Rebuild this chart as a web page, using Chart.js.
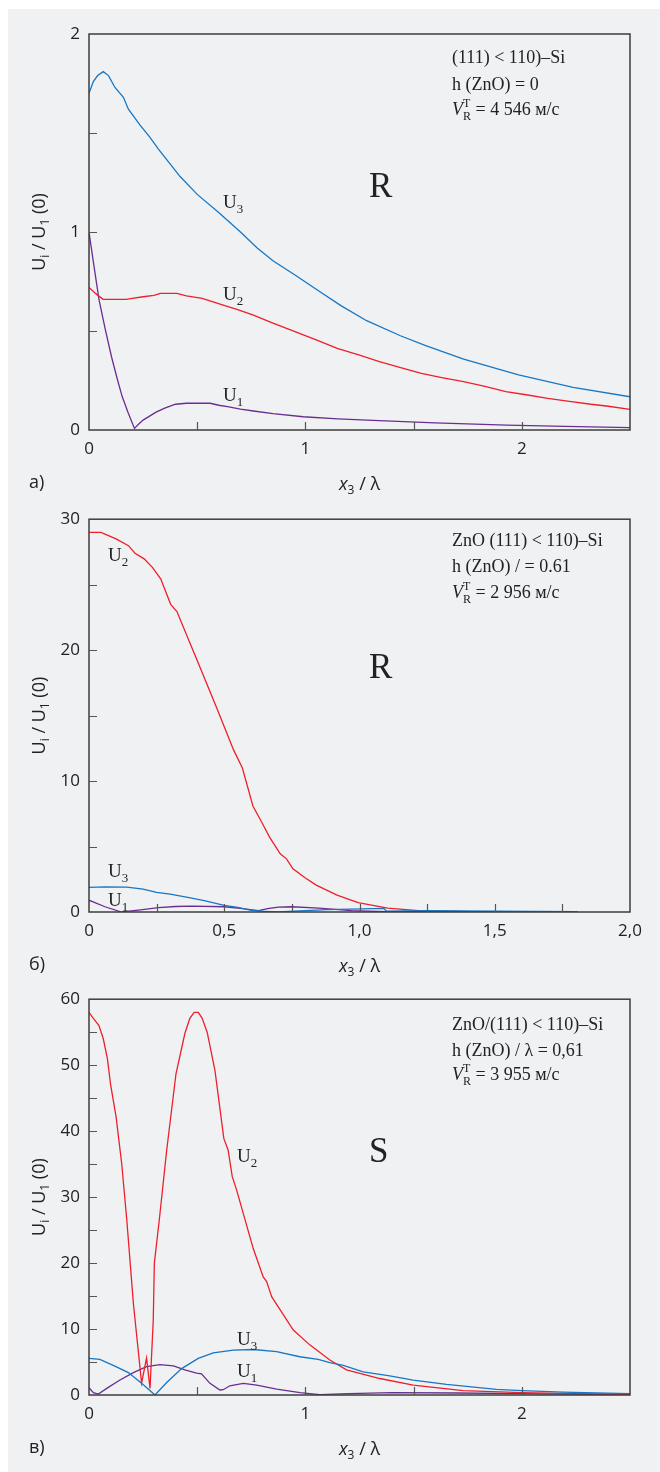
<!DOCTYPE html>
<html>
<head>
<meta charset="utf-8">
<script src="https://cdn.jsdelivr.net/npm/chart.js@4.4.1/dist/chart.umd.min.js"></script>
<style>
  html, body { margin: 0; padding: 0; background: #ffffff; }
  body { width: 660px; height: 1472px; position: relative; overflow: hidden; }
  #sheet { position: absolute; left: 8px; top: 9px; width: 652px; height: 1463px; background: #f0f1f3; }
  canvas { position: absolute; left: 0; }
</style>
</head>
<body>
<div id="sheet"></div>
<canvas id="panelA" width="660" height="500" style="top:0px"></canvas>
<canvas id="panelB" width="660" height="480" style="top:500px"></canvas>
<canvas id="panelC" width="660" height="492" style="top:980px"></canvas>
<script>
// ---------- Panel а: (111)<110>-Si, Rayleigh wave ----------
const a_x1 = [0, 0.02, 0.046, 0.075, 0.104, 0.13, 0.153, 0.18, 0.21, 0.23, 0.25, 0.28, 0.31, 0.35, 0.4, 0.45, 0.56, 0.6, 0.64, 0.7, 0.76, 0.85, 0.99, 1.15, 1.34, 1.6, 1.93, 2.2, 2.5];
const a_u1 = [1.0, 0.85, 0.66, 0.51, 0.37, 0.26, 0.17, 0.09, 0.008, 0.03, 0.05, 0.07, 0.09, 0.11, 0.13, 0.135, 0.135, 0.125, 0.118, 0.105, 0.096, 0.083, 0.067, 0.056, 0.047, 0.036, 0.025, 0.018, 0.012];
const a_x2 = [0, 0.03, 0.065, 0.1, 0.172, 0.2, 0.25, 0.3, 0.33, 0.406, 0.45, 0.523, 0.57, 0.62, 0.68, 0.757, 0.85, 0.952, 1.05, 1.147, 1.25, 1.342, 1.44, 1.536, 1.63, 1.731, 1.83, 1.926, 2.02, 2.12, 2.22, 2.32, 2.4, 2.5];
const a_u2 = [0.72, 0.69, 0.66, 0.66, 0.66, 0.665, 0.673, 0.68, 0.69, 0.69, 0.677, 0.665, 0.648, 0.631, 0.61, 0.581, 0.54, 0.497, 0.455, 0.412, 0.378, 0.345, 0.315, 0.286, 0.265, 0.244, 0.22, 0.194, 0.178, 0.16, 0.145, 0.13, 0.12, 0.104];
const a_x3 = [0, 0.02, 0.04, 0.066, 0.09, 0.12, 0.159, 0.182, 0.236, 0.28, 0.32, 0.37, 0.421, 0.5, 0.598, 0.7, 0.776, 0.85, 0.952, 1.069, 1.166, 1.283, 1.439, 1.556, 1.731, 1.985, 2.237, 2.5];
const a_u3 = [1.70, 1.76, 1.79, 1.81, 1.79, 1.73, 1.68, 1.62, 1.54, 1.48, 1.42, 1.35, 1.28, 1.19, 1.10, 1.00, 0.92, 0.855, 0.783, 0.697, 0.627, 0.552, 0.476, 0.426, 0.358, 0.278, 0.215, 0.168];
const a_xTicks = [0, 1, 2];
const a_xTickText = ['0', '1', '2'];
const a_yTicks = [0, 1, 2];
const a_yTickText = ['0', '1', '2'];

// ---------- Panel б: ZnO/(111)<110>-Si, h/λ = 0.61, Rayleigh wave ----------
const b_x1 = [0, 0.059, 0.12, 0.183, 0.257, 0.32, 0.38, 0.5, 0.56, 0.627, 0.66, 0.7, 0.75, 0.85, 0.97, 1.1, 1.3, 1.806];
const b_u1 = [0.9, 0.4, 0, 0.15, 0.33, 0.42, 0.45, 0.4, 0.28, 0.1, 0.25, 0.38, 0.4, 0.3, 0.1, 0.02, 0.02, 0];
const b_x2 = [0, 0.044, 0.1, 0.146, 0.17, 0.204, 0.235, 0.265, 0.302, 0.325, 0.4, 0.47, 0.534, 0.567, 0.606, 0.64, 0.668, 0.707, 0.73, 0.754, 0.8, 0.84, 0.917, 0.995, 1.104, 1.229, 1.4, 1.6, 1.806];
const b_u2 = [29, 29, 28.5, 27.98, 27.4, 26.97, 26.3, 25.45, 23.5, 22.95, 19.2, 15.7, 12.4, 11.0, 8.1, 6.8, 5.7, 4.44, 4.06, 3.3, 2.6, 2.05, 1.29, 0.71, 0.3, 0.08, 0.03, 0.01, 0];
const b_x3 = [0, 0.06, 0.14, 0.2, 0.25, 0.3, 0.37, 0.43, 0.5, 0.55, 0.6, 0.65, 0.7, 0.78, 0.88, 0.97, 1.09, 1.1, 1.25, 1.5, 1.806];
const b_u3 = [1.88, 1.92, 1.9, 1.75, 1.5, 1.36, 1.1, 0.85, 0.5, 0.36, 0.12, 0.05, 0, 0.08, 0.18, 0.22, 0.27, 0.06, 0.1, 0.06, 0.03];
const b_xTicks = [0, 0.5, 1, 1.5, 2];
const b_xTickText = ['0', '0,5', '1,0', '1,5', '2,0'];
const b_yTicks = [0, 10, 20, 30];
const b_yTickText = ['0', '10', '20', '30'];

// ---------- Panel в: ZnO/(111)<110>-Si, h/λ = 0,61, shear wave ----------
const c_x1 = [0, 0.02, 0.043, 0.082, 0.143, 0.205, 0.266, 0.328, 0.39, 0.443, 0.497, 0.52, 0.559, 0.605, 0.62, 0.651, 0.713, 0.775, 0.867, 0.975, 1.067, 1.2, 1.4, 1.7, 2.0, 2.5];
const c_u1 = [1.1, 0.35, 0.15, 1.0, 2.27, 3.4, 4.3, 4.6, 4.4, 3.8, 3.3, 3.2, 1.77, 0.76, 0.8, 1.4, 1.77, 1.5, 0.9, 0.35, 0.05, 0.2, 0.35, 0.3, 0.2, 0.05];
const c_x2 = [0, 0.02, 0.046, 0.066, 0.085, 0.1, 0.125, 0.151, 0.174, 0.205, 0.243, 0.266, 0.282, 0.297, 0.302, 0.325, 0.359, 0.402, 0.443, 0.466, 0.486, 0.505, 0.523, 0.546, 0.582, 0.623, 0.643, 0.662, 0.682, 0.72, 0.759, 0.805, 0.821, 0.844, 0.944, 1.02, 1.113, 1.19, 1.344, 1.498, 1.729, 2.0, 2.25, 2.5];
const c_u2 = [58, 57.1, 56, 54, 51, 47, 42.2, 35.1, 26.8, 13.9, 1.8, 5.6, 1.0, 11.4, 20, 26.6, 37.1, 48.7, 54.8, 57.1, 58, 58, 57.1, 55, 49.2, 38.9, 37.1, 33.1, 31.1, 26.7, 22.2, 17.9, 17.2, 14.9, 9.85, 7.6, 5.3, 3.8, 2.5, 1.5, 0.66, 0.36, 0.2, 0.1];
const c_x3 = [0, 0.05, 0.112, 0.182, 0.243, 0.305, 0.359, 0.428, 0.505, 0.574, 0.667, 0.76, 0.867, 0.974, 1.059, 1.113, 1.175, 1.267, 1.39, 1.498, 1.652, 1.883, 2.0, 2.19, 2.5];
const c_u3 = [5.56, 5.4, 4.5, 3.4, 1.77, 0, 1.9, 4.0, 5.56, 6.4, 6.8, 6.9, 6.57, 5.8, 5.4, 4.9, 4.5, 3.5, 2.9, 2.27, 1.6, 0.86, 0.66, 0.45, 0.2];
const c_xTicks = [0, 1, 2];
const c_xTickText = ['0', '1', '2'];
const c_yTicks = [0, 10, 20, 30, 40, 50, 60];
const c_yTickText = ['0', '10', '20', '30', '40', '50', '60'];

// ---------- shared styling ----------
const BLUE = '#1677c4';
const RED = '#ee1f2b';
const PURPLE = '#6a2d92';
const INK = '#222222';
const SERIF = '"Liberation Serif", "DejaVu Serif", serif';
const SANS = '"Open Sans", "Noto Sans", sans-serif';

// Draws a sequence of text pieces left to right; a piece may stack a superscript over a subscript.
function drawRuns(ctx, x, y, parts) {
  let cx = x;
  for (const p of parts) {
    if (p.stack) {
      ctx.font = p.font;
      ctx.fillText(p.sup, cx, y + p.supDy);
      ctx.fillText(p.sub, cx, y + p.subDy);
      cx += Math.max(ctx.measureText(p.sup).width, ctx.measureText(p.sub).width);
    } else {
      ctx.font = p.font;
      ctx.fillText(p.t, cx, y + (p.dy || 0));
      cx += ctx.measureText(p.t).width;
    }
  }
  return cx - x;
}
function measureRuns(ctx, parts) {
  let w = 0;
  for (const p of parts) {
    ctx.font = p.font;
    if (p.stack) w += Math.max(ctx.measureText(p.sup).width, ctx.measureText(p.sub).width);
    else w += ctx.measureText(p.t).width;
  }
  return w;
}

// Curve label "U" with numeric subscript
function uLabel(n) {
  return [
    { t: 'U', font: '19px ' + SERIF },
    { t: String(n), font: '13px ' + SERIF, dy: 5 }
  ];
}

const yTitleParts = [
  { t: 'U', font: '18px ' + SANS },
  { t: 'i', font: '12px ' + SANS, dy: 4 },
  { t: ' / ', font: '18px ' + SANS },
  { t: 'U', font: '18px ' + SANS },
  { t: '1', font: '12px ' + SANS, dy: 4 },
  { t: ' (0)', font: '18px ' + SANS }
];
const xTitleParts = [
  { t: 'x', font: 'italic 18px ' + SANS },
  { t: '3', font: '12px ' + SANS, dy: 4 },
  { t: ' / λ', font: '18px ' + SANS }
];
function velocityLine(text) {
  return [
    { t: 'V', font: 'italic 18px ' + SERIF },
    { stack: true, sup: 'T', sub: 'R', font: '12px ' + SERIF, supDy: -8, subDy: 5 },
    { t: text, font: '18px ' + SERIF }
  ];
}

function decorations(cfg) {
  return {
    id: 'decor_' + cfg.id,
    afterDraw(chart) {
      const ctx = chart.ctx;
      const { left, right, top, bottom } = chart.chartArea;
      const xs = chart.scales.x, ys = chart.scales.y;
      ctx.save();
      // frame
      ctx.strokeStyle = '#3c3c3c';
      ctx.lineWidth = 1.5;
      ctx.strokeRect(left, top, right - left, bottom - top);
      // inward tick marks
      ctx.strokeStyle = '#555555';
      ctx.lineWidth = 1.2;
      ctx.beginPath();
      xs.ticks.forEach(t => {
        if (t.value <= xs.min + 1e-9 || t.value >= xs.max - 1e-9) return;
        const px = Math.round(xs.getPixelForValue(t.value)) + 0.5;
        ctx.moveTo(px, bottom); ctx.lineTo(px, bottom - 8);
      });
      ys.ticks.forEach(t => {
        if (t.value <= ys.min + 1e-9 || t.value >= ys.max - 1e-9) return;
        const py = Math.round(ys.getPixelForValue(t.value)) + 0.5;
        ctx.moveTo(left, py); ctx.lineTo(left + 8, py);
      });
      ctx.stroke();

      ctx.fillStyle = INK;
      ctx.textBaseline = 'alphabetic';
      ctx.textAlign = 'left';
      // y axis title (rotated)
      const cy = (top + bottom) / 2;
      const tw = measureRuns(ctx, yTitleParts);
      ctx.save();
      ctx.translate(45, cy);
      ctx.rotate(-Math.PI / 2);
      drawRuns(ctx, -tw / 2, 0, yTitleParts);
      ctx.restore();
      // x axis title
      const xw = measureRuns(ctx, xTitleParts);
      drawRuns(ctx, (left + right) / 2 - xw / 2, bottom + 60, xTitleParts);
      // panel letter
      ctx.font = '18px ' + SANS;
      ctx.fillText(cfg.letter, 29, bottom + 58);
      // annotation block
      cfg.notes.forEach((line, i) => drawRuns(ctx, 452, cfg.noteY[i] - cfg.canvasTop, line));
      // wave type letter
      ctx.font = '35px ' + SERIF;
      ctx.fillText(cfg.mode, cfg.modeX, cfg.modeY - cfg.canvasTop);
      // curve labels
      cfg.labels.forEach(l => drawRuns(ctx, l.x, l.y - cfg.canvasTop, uLabel(l.n)));
      ctx.restore();
    }
  };
}

function tickText(vals, texts) {
  return v => {
    const i = vals.findIndex(t => Math.abs(t - v) < 1e-6);
    return i < 0 ? '' : texts[i];
  };
}

function series(xs, ys, color) {
  return {
    data: xs.map((x, i) => ({ x: x, y: ys[i] })),
    borderColor: color,
    borderWidth: 1.3,
    pointRadius: 0,
    fill: false,
    tension: 0
  };
}

function makePanel(cfg) {
  const tickFont = { family: SANS, size: 17 };
  return new Chart(document.getElementById(cfg.id), {
    type: 'line',
    data: { datasets: cfg.datasets },
    options: {
      responsive: false,
      animation: false,
      events: [],
      layout: { padding: { left: 0, top: cfg.padTop, right: 30, bottom: 0 } },
      scales: {
        x: {
          type: 'linear', min: 0, max: cfg.xMax,
          afterFit: s => { s.height = cfg.xAxisH; },
          grid: { display: false, drawTicks: false },
          border: { display: false },
          ticks: {
            stepSize: cfg.xStep, autoSkip: false, maxRotation: 0, minRotation: 0,
            padding: 9, color: INK, font: tickFont,
            callback: tickText(cfg.xTicks, cfg.xTickText)
          }
        },
        y: {
          type: 'linear', min: 0, max: cfg.yMax,
          afterFit: s => { s.width = 89; },
          grid: { display: false, drawTicks: false },
          border: { display: false },
          ticks: {
            stepSize: cfg.yStep, autoSkip: false,
            padding: 9, color: INK, font: tickFont,
            callback: tickText(cfg.yTicks, cfg.yTickText)
          }
        }
      },
      plugins: { legend: { display: false }, tooltip: { enabled: false } }
    },
    plugins: [decorations(cfg)]
  });
}

makePanel({
  id: 'panelA', canvasTop: 0, padTop: 34, xAxisH: 70,
  xMax: 2.5, xStep: 0.5, yMax: 2, yStep: 0.5,
  xTicks: a_xTicks, xTickText: a_xTickText, yTicks: a_yTicks, yTickText: a_yTickText,
  datasets: [series(a_x3, a_u3, BLUE), series(a_x2, a_u2, RED), series(a_x1, a_u1, PURPLE)],
  letter: 'а)',
  notes: [
    [{ t: '(111) < 110)–Si', font: '18px ' + SERIF }],
    [{ t: 'h (ZnO) = 0', font: '18px ' + SERIF }],
    velocityLine(' = 4 546 м/с')
  ],
  noteY: [63, 90, 115],
  mode: 'R', modeX: 369, modeY: 197,
  labels: [{ n: 3, x: 223, y: 208 }, { n: 2, x: 223, y: 300 }, { n: 1, x: 223, y: 401 }]
});

makePanel({
  id: 'panelB', canvasTop: 500, padTop: 16, xAxisH: 68,
  xMax: 2.0, xStep: 0.25, yMax: 30, yStep: 5,
  xTicks: b_xTicks, xTickText: b_xTickText, yTicks: b_yTicks, yTickText: b_yTickText,
  datasets: [series(b_x3, b_u3, BLUE), series(b_x2, b_u2, RED), series(b_x1, b_u1, PURPLE)],
  letter: 'б)',
  notes: [
    [{ t: 'ZnO (111) < 110)–Si', font: '18px ' + SERIF }],
    [{ t: 'h (ZnO) / = 0.61', font: '18px ' + SERIF }],
    velocityLine(' = 2 956 м/с')
  ],
  noteY: [546, 572, 598],
  mode: 'R', modeX: 369, modeY: 678,
  labels: [{ n: 2, x: 108, y: 561 }, { n: 3, x: 108, y: 877 }, { n: 1, x: 108, y: 906 }]
});

makePanel({
  id: 'panelC', canvasTop: 980, padTop: 19, xAxisH: 77,
  xMax: 2.5, xStep: 0.5, yMax: 60, yStep: 5,
  xTicks: c_xTicks, xTickText: c_xTickText, yTicks: c_yTicks, yTickText: c_yTickText,
  datasets: [series(c_x3, c_u3, BLUE), series(c_x2, c_u2, RED), series(c_x1, c_u1, PURPLE)],
  letter: 'в)',
  notes: [
    [{ t: 'ZnO/(111) < 110)–Si', font: '18px ' + SERIF }],
    [{ t: 'h (ZnO) / λ = 0,61', font: '18px ' + SERIF }],
    velocityLine(' = 3 955 м/с')
  ],
  noteY: [1030, 1056, 1080],
  mode: 'S', modeX: 369, modeY: 1162,
  labels: [{ n: 2, x: 237, y: 1162 }, { n: 3, x: 237, y: 1345 }, { n: 1, x: 237, y: 1377 }]
});
</script>
</body>
</html>
